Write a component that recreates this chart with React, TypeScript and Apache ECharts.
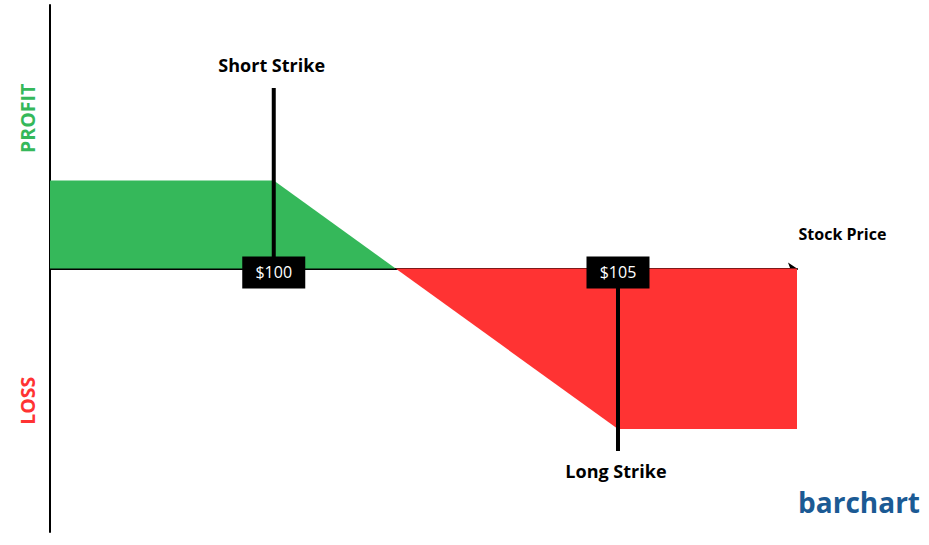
import React, { useEffect, useRef } from "react";
import * as echarts from "echarts";

// Payoff data (stock price $, profit/loss $)
const profitPrices = [96.75, 100, 101.77];
const profitValues = [1.77, 1.77, 0];
const lossPrices = [101.77, 105, 107.6];
const lossValues = [0, -3.23, -3.23];
const strikePrices = [100, 105];
const strikeLabels = ["$100", "$105"];
const shortStrikeLine = [3.63, 0.2];
const longStrikeLine = [-0.38, -3.67];

const FONT = "'Open Sans', 'Noto Sans', sans-serif";

export default function App() {
  const ref = useRef<HTMLDivElement>(null);
  useEffect(() => {
    if (!ref.current) return;
    const chart = echarts.init(ref.current, undefined, { renderer: "svg" });
    chart.setOption({
      animation: false,
      backgroundColor: "#ffffff",
      grid: { left: 50, top: 5, width: 747, height: 527 },
      xAxis: {
        type: "value",
        min: 96.75,
        max: 107.6,
        splitLine: { show: false },
        axisTick: { show: false },
        axisLabel: { show: false },
        axisLine: {
          show: true,
          onZero: true,
          lineStyle: { color: "#000", width: 2 },
          symbol: ["none", "arrow"],
          symbolSize: [9, 9],
        },
      },
      yAxis: {
        type: "value",
        min: -5.3,
        max: 5.3,
        splitLine: { show: false },
        axisTick: { show: false },
        axisLabel: { show: false },
        axisLine: { show: true, onZero: false, lineStyle: { color: "#000", width: 2 } },
      },
      series: [
        {
          type: "line",
          data: profitPrices.map((p, i) => [p, profitValues[i]]),
          symbol: "none",
          lineStyle: { width: 0 },
          areaStyle: { color: "#35b85a", opacity: 1 },
          z: 1,
        },
        {
          type: "line",
          data: lossPrices.map((p, i) => [p, lossValues[i]]),
          symbol: "none",
          lineStyle: { width: 0 },
          areaStyle: { color: "#ff3333", opacity: 1 },
          z: 1,
        },
        {
          type: "line",
          data: shortStrikeLine.map((v) => [strikePrices[0], v]),
          symbol: "none",
          lineStyle: { color: "#000", width: 4 },
          z: 3,
        },
        {
          type: "line",
          data: longStrikeLine.map((v) => [strikePrices[1], v]),
          symbol: "none",
          lineStyle: { color: "#000", width: 4 },
          z: 3,
        },
        {
          type: "scatter",
          clip: false,
          symbol: "rect",
          symbolSize: [63, 32],
          itemStyle: { color: "#000", opacity: 1 },
          data: strikePrices.map((p, i) => ({ value: [p, -0.08], name: strikeLabels[i] })),
          label: {
            show: true,
            position: "inside",
            formatter: (p: any) => p.name,
            color: "#fff",
            fontSize: 16,
            fontFamily: FONT,
          },
          z: 5,
        },
        {
          type: "scatter",
          clip: false,
          symbolSize: 0,
          itemStyle: { opacity: 1 },
          data: [
            { value: [strikePrices[0] - 0.03, 4.09], name: "Short Strike", label: { fontSize: 18 } },
            { value: [strikePrices[1] - 0.03, -4.07], name: "Long Strike", label: { fontSize: 18 } },
            { value: [108.26, 0.69], name: "Stock Price", label: { fontSize: 16 } },
          ],
          label: {
            show: true,
            position: "inside",
            formatter: (p: any) => p.name,
            color: "#000",
            fontWeight: "bold",
            fontFamily: FONT,
          },
          z: 5,
        },
        {
          type: "scatter",
          clip: false,
          symbolSize: 0,
          itemStyle: { opacity: 1 },
          data: [
            { value: [96.42, 3.02], name: "PROFIT", itemStyle: { color: "#35b85a" } },
            { value: [96.42, -2.66], name: "LOSS", itemStyle: { color: "#ff3333" } },
          ],
          label: {
            show: true,
            position: "inside",
            rotate: 90,
            formatter: (p: any) => p.name,
            color: "inherit",
            fontSize: 19.5,
            fontWeight: "bold",
            fontFamily: FONT,
          },
          z: 5,
        },
      ],
      graphic: [
        {
          type: "text",
          right: 9,
          top: 488,
          style: {
            text: "barchart",
            fill: "#1b5a94",
            font: "bold 28px 'Open Sans', sans-serif",
          },
        },
      ],
    });
    return () => chart.dispose();
  }, []);
  return (
    <div
      ref={ref}
      style={{ position: "fixed", left: 0, top: 0, width: 929, height: 545 }}
    />
  );
}
